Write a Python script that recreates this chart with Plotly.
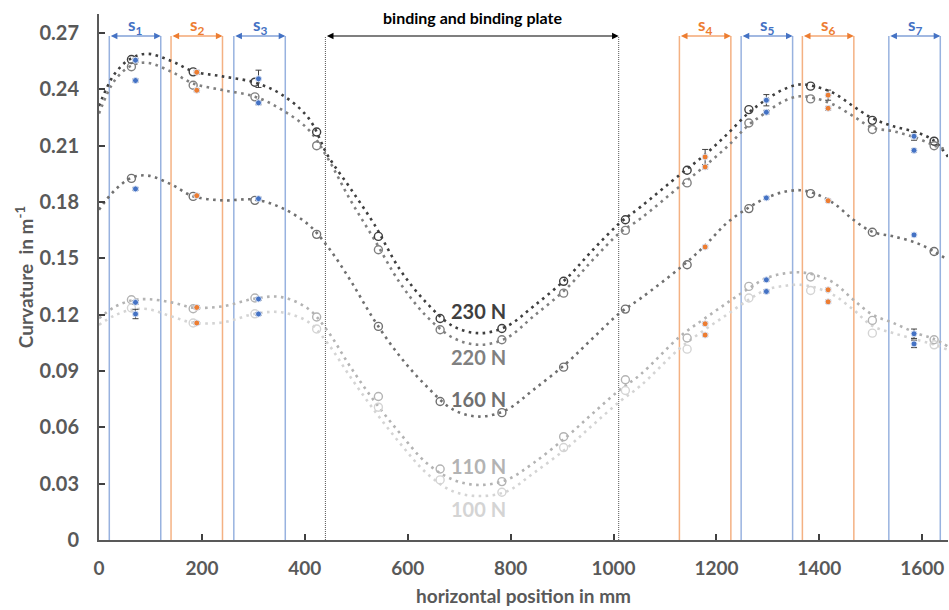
import plotly.graph_objects as go

# ---------------- data ----------------
loads = ["230 N", "220 N", "160 N", "110 N", "100 N"]
load_colors = ["#3f3f3f", "#808080", "#707070", "#b3b3b3", "#d4d4d4"]

# smooth model curves (knots)
curve_x = [0, 30, 63, 95, 141, 183, 240, 303, 355, 407, 445, 488, 535, 585, 637, 689, 740, 792,
           844, 909, 960, 1012, 1052, 1129, 1175, 1220, 1263, 1297, 1330, 1362, 1390, 1427, 1466,
           1503, 1544, 1589, 1623, 1650]
curve_230 = [0.231, 0.248, 0.2565, 0.2588, 0.2549, 0.2495, 0.2468, 0.2435, 0.2371, 0.2247, 0.2045,
             0.1874, 0.1680, 0.1439, 0.1261, 0.1137, 0.1101, 0.1137, 0.1243, 0.1394, 0.1545, 0.1687,
             0.1772, 0.1945, 0.2045, 0.2158, 0.2275, 0.2345, 0.2398, 0.2425, 0.2415, 0.2380, 0.2309,
             0.2245, 0.2202, 0.2170, 0.2125, 0.2040]
curve_220 = [0.227, 0.2445, 0.2525, 0.2540, 0.2492, 0.2430, 0.2395, 0.2360, 0.2291, 0.2185, 0.2030,
             0.1812, 0.1600, 0.1368, 0.1190, 0.1075, 0.1039, 0.1075, 0.1190, 0.1340, 0.1492, 0.1635,
             0.1710, 0.1883, 0.1985, 0.2092, 0.2210, 0.2277, 0.2335, 0.2362, 0.2352, 0.2318, 0.2256,
             0.2195, 0.2176, 0.2140, 0.2100, 0.2075]
curve_160 = [0.1758, 0.1860, 0.1928, 0.1940, 0.1892, 0.1830, 0.1808, 0.1812, 0.1768, 0.1679, 0.1560,
             0.1385, 0.1170, 0.0977, 0.0817, 0.0693, 0.0657, 0.0693, 0.0799, 0.0942, 0.1075, 0.1208,
             0.1285, 0.1448, 0.1560, 0.1687, 0.1770, 0.1821, 0.1852, 0.1862, 0.1845, 0.1794, 0.1705,
             0.1640, 0.1616, 0.1581, 0.1536, 0.1490]
curve_110 = [0.1180, 0.1240, 0.1275, 0.1282, 0.1265, 0.1237, 0.1244, 0.1285, 0.1293, 0.1230, 0.1110,
             0.0924, 0.0740, 0.0568, 0.0409, 0.0320, 0.0293, 0.0320, 0.0409, 0.0550, 0.0675, 0.0799,
             0.0880, 0.1083, 0.1175, 0.1261, 0.1340, 0.1394, 0.1418, 0.1425, 0.1412, 0.1371, 0.1279,
             0.1200, 0.1155, 0.1101, 0.1070, 0.1030]
curve_100 = [0.1145, 0.1195, 0.1225, 0.1229, 0.1190, 0.1157, 0.1158, 0.1204, 0.1212, 0.1160, 0.1045,
             0.0870, 0.0690, 0.0515, 0.0355, 0.0258, 0.0234, 0.0258, 0.0355, 0.0489, 0.0613, 0.0737,
             0.0820, 0.1021, 0.1115, 0.1199, 0.1280, 0.1332, 0.1352, 0.1359, 0.1345, 0.1305, 0.1226,
             0.1140, 0.1101, 0.1066, 0.1040, 0.1012]

# open-circle points
point_x = [63, 183, 303, 423, 543, 663, 783, 903, 1023, 1143, 1263, 1383, 1503, 1623]
points_230 = [0.2558, 0.2492, 0.2437, 0.2172, 0.1616, 0.1179, 0.1126, 0.1377, 0.1705, 0.1968, 0.2291, 0.2416, 0.2234, 0.2123]
points_220 = [0.2519, 0.2421, 0.2359, 0.2099, 0.1545, 0.1119, 0.1066, 0.1314, 0.1648, 0.1901, 0.2220, 0.2348, 0.2185, 0.2099]
points_160 = [0.1925, 0.1829, 0.1808, 0.1627, 0.1137, 0.0737, 0.0678, 0.0920, 0.1229, 0.1465, 0.1764, 0.1844, 0.1638, 0.1536]
points_110 = [0.1279, 0.1231, 0.1288, 0.1187, 0.0764, 0.0378, 0.0311, 0.0550, 0.0853, 0.1075, 0.1350, 0.1400, 0.1169, 0.1066]
points_100 = [0.1235, 0.1155, 0.1204, 0.1123, 0.0707, 0.0320, 0.0254, 0.0492, 0.0796, 0.1016, 0.1288, 0.1328, 0.1101, 0.1039]

# sensor measurements (s1..s7)
sensor_x = [71, 190, 310, 1178, 1297, 1417, 1584]
sensor_kind = ["blue", "orange", "blue", "orange", "blue", "orange", "blue"]
sensor_230 = [0.2554, 0.2490, 0.2455, 0.2039, 0.2341, 0.2368, 0.2149]
sensor_220 = [0.2446, 0.2394, 0.2327, 0.1986, 0.2277, 0.2298, 0.2074]
sensor_160 = [0.1869, 0.1833, 0.1817, 0.1560, 0.1821, 0.1806, 0.1624]
sensor_110 = [0.1265, 0.1238, 0.1283, 0.1151, 0.1385, 0.1332, 0.1098]
sensor_100 = [0.1203, 0.1155, 0.1203, 0.1091, 0.1323, 0.1268, 0.1044]
err_230 = [0.0010, 0.0010, 0.0046, 0.0040, 0.0030, 0.0027, 0.0021]
err_220 = [0.0008, 0.0008, 0.0010, 0.0010, 0.0010, 0.0010, 0.0010]
err_160 = [0.0008, 0.0008, 0.0008, 0.0008, 0.0008, 0.0008, 0.0008]
err_110 = [0.0010, 0.0008, 0.0008, 0.0008, 0.0008, 0.0008, 0.0025]
err_100 = [0.0025, 0.0008, 0.0008, 0.0008, 0.0008, 0.0008, 0.0020]

# sensor regions
seg_labels = ["s<sub>1</sub>", "s<sub>2</sub>", "s<sub>3</sub>", "s<sub>4</sub>",
              "s<sub>5</sub>", "s<sub>6</sub>", "s<sub>7</sub>"]
seg_start = [20, 140, 262, 1128, 1248, 1367, 1535]
seg_end = [120, 240, 362, 1228, 1348, 1467, 1635]
binding_range = [440, 1010]
binding_label = "binding and binding plate"

# load label positions
label_x = [737, 737, 737, 737, 737]
label_y = [0.1220, 0.0975, 0.0751, 0.0394, 0.0165]

y_ticks = [0, 0.03, 0.06, 0.09, 0.12, 0.15, 0.18, 0.21, 0.24, 0.27]
y_tick_text = ["0", "0.03", "0.06", "0.09", "0.12", "0.15", "0.18", "0.21", "0.24", "0.27"]
x_ticks = [0, 200, 400, 600, 800, 1000, 1200, 1400, 1600]

# ---------------- figure ----------------
BLUE = "#4472c4"
ORANGE = "#ed7d31"
kind_color = {"blue": BLUE, "orange": ORANGE}
kind_line = {"blue": "rgba(68,114,196,0.55)", "orange": "rgba(237,125,49,0.6)"}
FONT = "Lato"

fig = go.Figure()

curves = [curve_230, curve_220, curve_160, curve_110, curve_100]
points = [points_230, points_220, points_160, points_110, points_100]
sensors = [sensor_230, sensor_220, sensor_160, sensor_110, sensor_100]
errs = [err_230, err_220, err_160, err_110, err_100]

# region boundary lines
for s, e, k in zip(seg_start, seg_end, sensor_kind):
    for xv in (s, e):
        fig.add_shape(type="line", xref="x", yref="y", x0=xv, x1=xv, y0=0, y1=0.2683,
                      line=dict(color=kind_line[k], width=1.5), layer="below")
for xv in binding_range:
    fig.add_shape(type="line", xref="x", yref="y", x0=xv, x1=xv, y0=0, y1=0.2683,
                  line=dict(color="#555555", width=1, dash="1px,1px"), layer="below")

for name, col, cy in zip(loads, load_colors, curves):
    fig.add_trace(go.Scatter(x=curve_x, y=cy, mode="lines", name=name,
                             line=dict(color=col, width=2.6, dash="2.6px,4.4px",
                                       shape="spline", smoothing=1.0),
                             hoverinfo="skip", showlegend=False))

for name, col, py in zip(loads, load_colors, points):
    fig.add_trace(go.Scatter(x=point_x, y=py, mode="markers", name=name,
                             marker=dict(symbol="circle-open", size=8, color=col,
                                         line=dict(width=1.4, color=col)),
                             showlegend=False))

sensor_colors = [kind_color[k] for k in sensor_kind]
for name, sy, ey in zip(loads, sensors, errs):
    fig.add_trace(go.Scatter(x=sensor_x, y=sy, mode="markers", name=name,
                             marker=dict(symbol="circle", size=6, color=sensor_colors,
                                         line=dict(width=1, color="#dbe4f5")),
                             error_y=dict(type="data", array=ey, visible=True,
                                          color="#404040", thickness=1, width=3),
                             showlegend=False))

annotations = []
for lab, s, e, k in zip(seg_labels, seg_start, seg_end, sensor_kind):
    annotations.append(dict(x=e, y=0.2683, ax=s, ay=0.2683, xref="x", yref="y",
                            axref="x", ayref="y", text="", showarrow=True,
                            arrowhead=2, arrowside="end+start", arrowsize=1.1,
                            arrowwidth=1.2, arrowcolor=kind_color[k],
                            standoff=0, startstandoff=0))
    annotations.append(dict(x=(s + e) / 2, y=0.2738, xref="x", yref="y", text=lab,
                            showarrow=False, yanchor="middle",
                            font=dict(family=FONT, size=17, color=kind_color[k], weight="bold")))
annotations.append(dict(x=binding_range[1], y=0.2683, ax=binding_range[0], ay=0.2683,
                        xref="x", yref="y", axref="x", ayref="y", text="", showarrow=True,
                        arrowhead=2, arrowside="end+start", arrowsize=1.1, arrowwidth=1.2,
                        arrowcolor="#000000", standoff=0, startstandoff=0))
annotations.append(dict(x=sum(binding_range) / 2, y=0.2781, xref="x", yref="y",
                        text=binding_label, showarrow=False,
                        font=dict(family=FONT, size=16, color="#000000", weight="bold")))
for name, col, lx, ly in zip(loads, load_colors, label_x, label_y):
    annotations.append(dict(x=lx, y=ly, xref="x", yref="y", text=name, showarrow=False,
                            font=dict(family=FONT, size=20, color=col, weight="bold")))

fig.update_layout(
    width=949, height=610,
    margin=dict(l=99, r=1, t=14, b=70),
    paper_bgcolor="white", plot_bgcolor="white",
    annotations=annotations,
    showlegend=False,
    font=dict(family=FONT),
)
fig.update_xaxes(range=[0, 1650], tickvals=x_ticks, showgrid=False, zeroline=False,
                 showline=True, linecolor="#595959", linewidth=2,
                 ticks="inside", ticklen=6, tickwidth=2, tickcolor="#404040",
                 tickfont=dict(family=FONT, size=19, color="#595959", weight="bold"),
                 ticklabelstandoff=10,
                 title=dict(text="horizontal position in mm", standoff=12,
                            font=dict(family=FONT, size=19, color="#595959", weight="bold")))
fig.update_yaxes(range=[0, 0.28], tickvals=y_ticks, ticktext=y_tick_text, showgrid=False,
                 zeroline=False, showline=True, linecolor="#595959", linewidth=2,
                 ticks="inside", ticklen=6, tickwidth=2, tickcolor="#404040",
                 tickfont=dict(family=FONT, size=20, color="#595959", weight="bold"),
                 ticklabelstandoff=14,
                 title=dict(text="Curvature  in m<sup>-1</sup>", standoff=1,
                            font=dict(family=FONT, size=19, color="#595959", weight="bold")))

fig.write_html("out.html")
